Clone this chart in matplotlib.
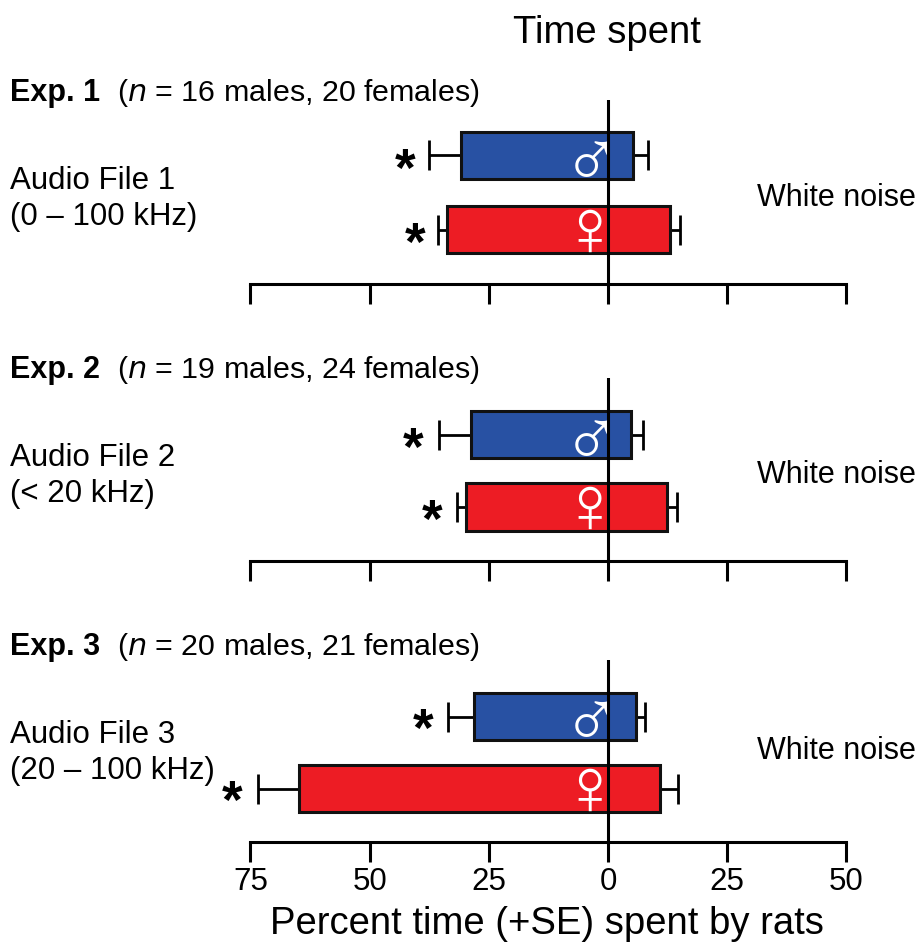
import matplotlib
matplotlib.use('Agg')
import matplotlib.pyplot as plt

plt.rcParams['font.family'] = ['Liberation Sans', 'DejaVu Sans']

W, H = 918, 942

exp_names = ['Exp. 1', 'Exp. 2', 'Exp. 3']
exp_n = ['16 males, 20 females', '19 males, 24 females', '20 males, 21 females']
file_labels = ['Audio File 1\n(0 – 100 kHz)', 'Audio File 2\n(< 20 kHz)', 'Audio File 3\n(20 – 100 kHz)']

# bars go both ways from zero: [left, right] for each experiment
male_left = [-30.9, -28.7, -28.2]
male_right = [5.3, 4.8, 5.9]
male_err_left = [-37.5, -35.4, -33.5]
male_err_right = [8.3, 7.3, 7.7]
female_left = [-33.7, -29.8, -64.8]
female_right = [13.0, 12.4, 10.9]
female_err_left = [-35.7, -31.7, -73.4]
female_err_right = [15.0, 14.5, 14.7]

tick_pos = [-75, -50, -25, 0, 25, 50]
tick_labels = ['75', '50', '25', '0', '25', '50']

# pixel rows of each panel
panel_top = [100, 378, 660]
panel_axis = [284, 561, 842]
male_row = [155.5, 435, 716.5]
female_row = [230, 507, 788.5]
header_row = [93, 370, 647]
file_row = [199, 476, 753]
noise_row = [198, 475, 751]
star_male_x = [-42.5, -41, -38.8]
star_female_x = [-40.5, -37, -78.8]


def txt(x, y, s, **kw):
    return fig.text(x / W, 1 - y / H, s, **kw)


def err(ax, y, start, tip):
    ax.errorbar([start], [y], xerr=[[max(start - tip, 0)], [max(tip - start, 0)]],
                color='black', lw=2, capsize=11, capthick=2, zorder=1)


fig = plt.figure(figsize=(W / 100, H / 100), dpi=100)

for i in range(3):
    top, axis = panel_top[i], panel_axis[i]
    ax = fig.add_axes([250.5 / W, 1 - axis / H, (847 - 251) / W, (axis - top) / H])
    ax.patch.set_visible(False)
    ax.set_xlim(-75, 50)
    # one y unit is the distance between the two bars of this panel
    step = female_row[i] - male_row[i]
    ybot = -(axis - female_row[i]) / step
    ax.set_ylim(ybot, ybot + (axis - top) / step)
    bar_h = 47 / step

    ax.barh([1], [male_right[i] - male_left[i]], left=male_left[i], height=bar_h,
            color='#2851a3', edgecolor='#111111', lw=2.2, zorder=2)
    ax.barh([0], [female_right[i] - female_left[i]], left=female_left[i], height=bar_h,
            color='#ed1c24', edgecolor='#111111', lw=2.2, zorder=2)
    err(ax, 1, male_left[i], male_err_left[i])
    err(ax, 1, male_right[i], male_err_right[i])
    err(ax, 0, female_left[i], female_err_left[i])
    err(ax, 0, female_right[i], female_err_right[i])

    ax.axvline(0, color='black', lw=2.2, zorder=4)

    ax.text(-3.3, 0.865, '\u2642', color='white', fontsize=58, family='Liberation Sans',
            ha='center', va='center', zorder=3)
    ax.text(-3.9, -0.055, '\u2640', color='white', fontsize=58, family='Liberation Sans',
            ha='center', va='center', zorder=3)
    ax.text(star_male_x[i], 0.78, '*', fontsize=38, fontweight='bold', ha='center', va='center')
    ax.text(star_female_x[i], -0.22, '*', fontsize=38, fontweight='bold', ha='center', va='center')

    for s in ['top', 'left', 'right']:
        ax.spines[s].set_visible(False)
    ax.spines['bottom'].set_linewidth(2.2)
    ax.set_yticks([])
    ax.set_xticks(tick_pos)
    ax.tick_params(axis='x', length=14.4, width=2.2, pad=3.5, labelsize=22.5)
    if i == 2:
        ax.set_xticklabels(tick_labels)
    else:
        ax.set_xticklabels([])

    txt(10, header_row[i], exp_names[i], fontsize=22, fontweight='bold', va='center')
    txt(117, header_row[i], '($\\mathit{n}$ = ' + exp_n[i] + ')', fontsize=21.9, va='center',
        math_fontfamily='custom')
    txt(10, file_row[i], file_labels[i], fontsize=22.5, va='center', linespacing=1.3)
    txt(916, noise_row[i], 'White noise', fontsize=22, ha='right', va='center')

txt(607, 33, 'Time spent', fontsize=27.5, ha='center', va='center')
txt(547, 933.5, 'Percent time (+SE) spent by rats', fontsize=27.5, ha='center', va='baseline')

fig.savefig('out.png', dpi=100)
